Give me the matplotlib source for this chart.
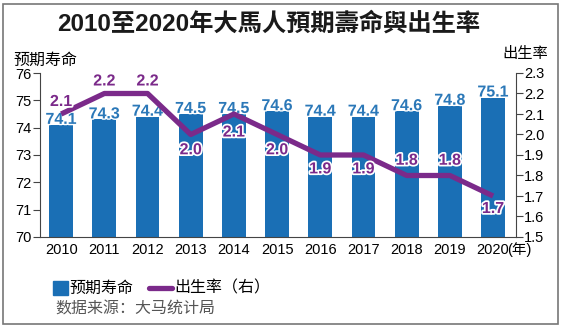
import matplotlib.pyplot as plt
import matplotlib.patheffects as pe
from matplotlib.patches import Rectangle
from matplotlib.lines import Line2D

# data
years = ['2010', '2011', '2012', '2013', '2014', '2015', '2016', '2017', '2018', '2019', '2020']
life_exp = [74.1, 74.3, 74.4, 74.5, 74.5, 74.6, 74.4, 74.4, 74.6, 74.8, 75.1]
birth_rate = [2.1, 2.2, 2.2, 2.0, 2.1, 2.0, 1.9, 1.9, 1.8, 1.8, 1.7]
# label offsets for the birth rate values (points, + is above)
br_offset = [9, 9, 9, -11, -13, -11, -10, -10, 11, 11, -9]

blue = '#1A6FB5'
purple = '#7B2A8A'
sc = ['Liberation Sans', 'Noto Sans CJK SC']
tc = ['Liberation Sans', 'Noto Sans CJK TC']
plt.rcParams['font.family'] = sc

fig = plt.figure(figsize=(5.62, 3.27), dpi=100)
ax = fig.add_axes([40 / 562, 90 / 327, 476 / 562, 164 / 327])
x = list(range(len(years)))

ax.bar(x, life_exp, width=0.55, color=blue, zorder=2)
ax.set_ylim(70, 76)
ax.set_xlim(-0.49, 10.53)
ax.set_yticks(range(70, 77))
for xi, v in zip(x, life_exp):
    ax.annotate(f'{v:.1f}', (xi, v), xytext=(0, 4), textcoords='offset points',
                ha='center', va='center', color='#2B78B8', fontsize=11.5,
                fontweight='bold', zorder=5,
                path_effects=[pe.withStroke(linewidth=2, foreground='white')])

ax2 = ax.twinx()
ax2.plot(x, birth_rate, color=purple, lw=3.8, solid_capstyle='butt', zorder=3)
ax2.set_ylim(1.5, 2.3)
ax2.set_yticks([1.5 + 0.1 * i for i in range(9)])
ax2.set_yticklabels([f'{1.5 + 0.1 * i:.1f}' for i in range(9)])
for xi, v, off in zip(x, birth_rate, br_offset):
    ax2.annotate(f'{v:.1f}', (xi, v), xytext=(0, off), textcoords='offset points',
                 ha='center', va='center', color=purple, fontsize=11.5,
                 fontweight='bold', zorder=6,
                 path_effects=[pe.withStroke(linewidth=2.5, foreground='white')])

for a in (ax, ax2):
    a.spines['top'].set_visible(False)
    for s in a.spines.values():
        s.set_color('#444444')
        s.set_linewidth(0.8)
ax.spines['right'].set_visible(False)
ax2.spines['left'].set_visible(False)
ax2.spines['bottom'].set_visible(False)

ax.tick_params(axis='y', length=5, width=0.8, color='#444444', labelsize=10.5, pad=1)
ax2.tick_params(axis='y', length=5, width=0.8, color='#444444', labelsize=10.5, pad=1)
ax.set_xticks(x)
ax.set_xticklabels(years)
ax.tick_params(axis='x', length=0, labelsize=10.5, pad=4)
ax.annotate('(年)', (10, 0), xycoords=('data', 'axes fraction'), xytext=(10, -4),
            textcoords='offset points', ha='left', va='top', fontsize=10.5)

fig.text(269 / 562, 1 - 24 / 327, '2010至2020年大馬人預期壽命與出生率', ha='center', va='center',
         fontsize=17.5, fontweight='bold', family=tc, color='#1a1a1a')
fig.text(13 / 562, 1 - 60 / 327, '预期寿命', ha='left', va='center', fontsize=11.5)
fig.text(548 / 562, 1 - 54 / 327, '出生率', ha='right', va='center', fontsize=11)

# legend row
fig.patches.append(Rectangle((53 / 562, 1 - 295 / 327), 15 / 562, 14 / 327,
                             transform=fig.transFigure, color=blue))
fig.text(69 / 562, 1 - 288 / 327, '预期寿命', ha='left', va='center', fontsize=11.5)
fig.lines.append(Line2D([149 / 562, 172 / 562], [1 - 288 / 327, 1 - 288 / 327],
                        transform=fig.transFigure, color=purple, lw=3.8,
                        solid_capstyle='round'))
fig.text(174 / 562, 1 - 288 / 327, '出生率（右）', ha='left', va='center', fontsize=11.5)
fig.text(55 / 562, 1 - 309 / 327, '数据来源：大马统计局', ha='left', va='center',
         fontsize=11.5, color='#555555')

# outer frame
fig.patches.append(Rectangle((3 / 562, 3 / 327), 555 / 562, 320 / 327,
                             transform=fig.transFigure, fill=False,
                             edgecolor='#777777', lw=1.2))

fig.savefig('out.png', dpi=100)
